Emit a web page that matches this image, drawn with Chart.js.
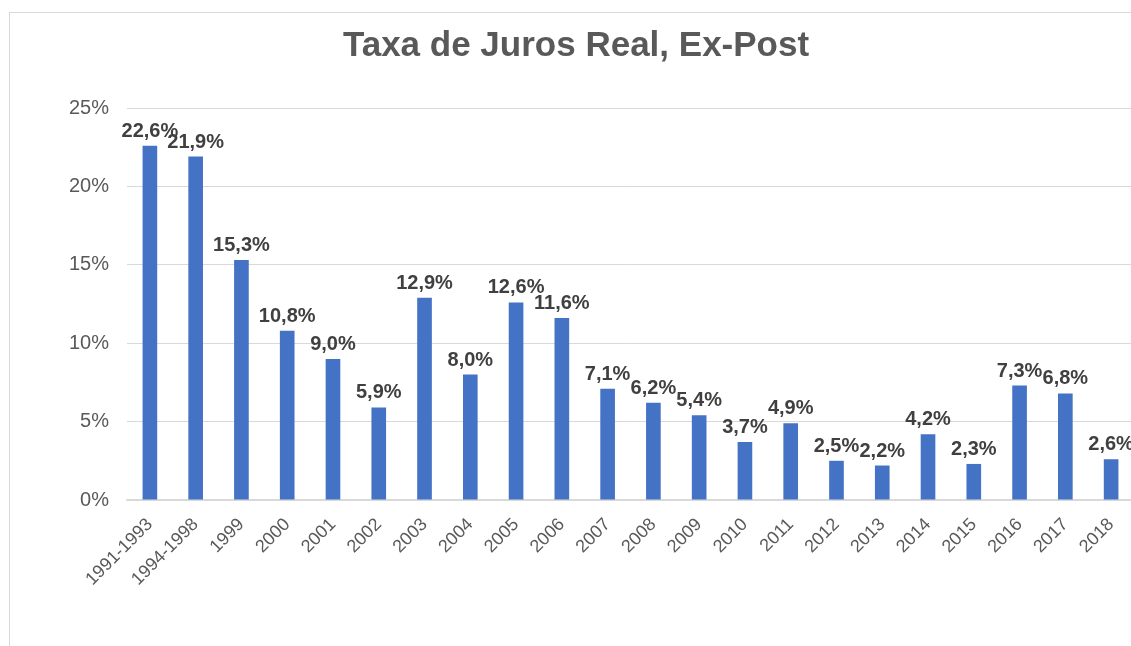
<!DOCTYPE html>
<html>
<head>
<meta charset="utf-8">
<script src="https://cdn.jsdelivr.net/npm/chart.js@4/dist/chart.umd.min.js"></script>
<style>
    html, body { margin: 0; padding: 0; background: #fff; overflow: hidden; width: 1131px; height: 646px; }
    #frame { position: absolute; left: 9px; top: 12px; width: 1140px; height: 700px; border: 1px solid #d9d9d9; }
    #chart { display: block; }
</style>
</head>
<body>
<div id="frame"><canvas id="chart" width="1134" height="700"></canvas></div>
<script>
// Data
const categories = ['1991-1993', '1994-1998', '1999', '2000', '2001', '2002', '2003', '2004', '2005', '2006', '2007',
    '2008', '2009', '2010', '2011', '2012', '2013', '2014', '2015', '2016', '2017', '2018'];
const realRates = [22.6, 21.9, 15.3, 10.8, 9.0, 5.9, 12.9, 8.0, 12.6, 11.6, 7.1,
    6.2, 5.4, 3.7, 4.9, 2.5, 2.2, 4.2, 2.3, 7.3, 6.8, 2.6];
const yTicks = [0, 5, 10, 15, 20, 25];

const FONT = '"Liberation Sans", Arial, sans-serif';

// draw value labels above each bar (pt-BR decimal comma)
const barLabels = {
    id: 'barLabels',
    afterDatasetsDraw(chart) {
        const ctx = chart.ctx;
        const meta = chart.getDatasetMeta(0);
        ctx.save();
        ctx.font = 'bold 20px ' + FONT;
        ctx.fillStyle = '#404040';
        ctx.textAlign = 'center';
        ctx.textBaseline = 'alphabetic';
        meta.data.forEach((bar, i) => {
            const txt = realRates[i].toFixed(1).replace('.', ',') + '%';
            ctx.fillText(txt, bar.x, bar.y - 9);
        });
        ctx.restore();
    }
};

new Chart(document.getElementById('chart'), {
    type: 'bar',
    data: {
        labels: categories,
        datasets: [{
            data: realRates,
            backgroundColor: '#4472C4',
            borderWidth: 0,
            barPercentage: 0.32,
            categoryPercentage: 1.0,
        }],
    },
    options: {
        responsive: false,
        animation: false,
        layout: { padding: { top: 12, left: 8, right: 10, bottom: 0 } },
        plugins: {
            legend: { display: false },
            tooltip: { enabled: false },
            title: {
                display: true,
                text: 'Taxa de Juros Real, Ex-Post',
                color: '#595959',
                font: { family: FONT, size: 35, weight: 'bold' },
                padding: { top: 0, bottom: 41 },
            },
        },
        scales: {
            x: {
                grid: { display: false, drawTicks: false },
                border: { color: '#d9d9d9', width: 1.5 },
                ticks: {
                    color: '#595959',
                    font: { family: FONT, size: 18 },
                    minRotation: 45,
                    maxRotation: 45,
                    padding: 14,
                    autoSkip: false,
                },
                afterFit(scale) { scale.height = 213; },
            },
            y: {
                min: 0,
                max: 25,
                afterBuildTicks(scale) { scale.ticks = yTicks.map(v => ({ value: v })); },
                grid: { color: '#d9d9d9', drawTicks: false },
                border: { display: false },
                ticks: {
                    color: '#595959',
                    font: { family: FONT, size: 20 },
                    padding: 18,
                    callback: v => v + '%',
                },
                afterFit(scale) { scale.width = 109; },
            },
        },
    },
    plugins: [barLabels],
});
</script>
</body>
</html>
